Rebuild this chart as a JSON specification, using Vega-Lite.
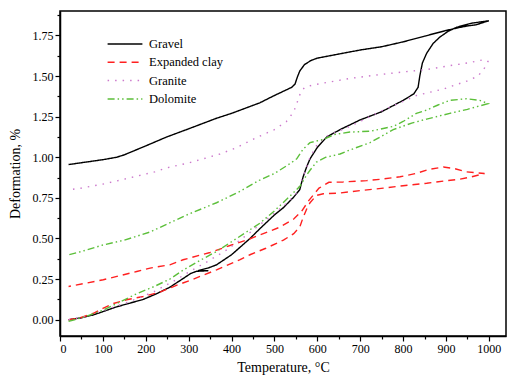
{
  "$schema": "https://vega.github.io/schema/vega-lite/v6.json",
  "width": 446,
  "height": 325,
  "autosize": {"type": "none"},
  "padding": {"left": 60, "top": 11, "right": 1, "bottom": 40},
  "config": {
    "view": {"stroke": "black", "strokeWidth": 1.5},
    "font": "Times New Roman",
    "style": {"guide-label": {"font": "Times New Roman", "fill": "black"}, "guide-title": {"font": "Times New Roman", "fill": "black"}},
    "axis": {"grid": false, "domainColor": "black", "domainWidth": 1.5, "tickColor": "black", "tickWidth": 1.2, "labelColor": "black", "titleColor": "black", "labelFont": "Times New Roman", "titleFont": "Times New Roman", "labelFontSize": 12, "titleFontSize": 14, "titleFontWeight": "normal"},
    "legend": {"labelFont": "Times New Roman", "labelFontSize": 12.5, "labelColor": "black"}
  },
  "data": {"values": [
    {"m":"Gravel","i":0,"T":20,"D":0},{"m":"Gravel","i":1,"T":50,"D":0.012},{"m":"Gravel","i":2,"T":78,"D":0.03},{"m":"Gravel","i":3,"T":100,"D":0.05},{"m":"Gravel","i":4,"T":130,"D":0.078},{"m":"Gravel","i":5,"T":160,"D":0.1},{"m":"Gravel","i":6,"T":194,"D":0.125},{"m":"Gravel","i":7,"T":225,"D":0.16},{"m":"Gravel","i":8,"T":256,"D":0.2},{"m":"Gravel","i":9,"T":285,"D":0.25},{"m":"Gravel","i":10,"T":305,"D":0.285},{"m":"Gravel","i":11,"T":318,"D":0.298},{"m":"Gravel","i":12,"T":346,"D":0.302},{"m":"Gravel","i":13,"T":322,"D":0.302},{"m":"Gravel","i":14,"T":345,"D":0.318},{"m":"Gravel","i":15,"T":365,"D":0.338},{"m":"Gravel","i":16,"T":400,"D":0.4},{"m":"Gravel","i":17,"T":443,"D":0.5},{"m":"Gravel","i":18,"T":466,"D":0.56},{"m":"Gravel","i":19,"T":500,"D":0.645},{"m":"Gravel","i":20,"T":521,"D":0.69},{"m":"Gravel","i":21,"T":545,"D":0.755},{"m":"Gravel","i":22,"T":559,"D":0.8},{"m":"Gravel","i":23,"T":567,"D":0.88},{"m":"Gravel","i":24,"T":575,"D":0.94},{"m":"Gravel","i":25,"T":583,"D":0.99},{"m":"Gravel","i":26,"T":600,"D":1.06},{"m":"Gravel","i":27,"T":622,"D":1.125},{"m":"Gravel","i":28,"T":653,"D":1.17},{"m":"Gravel","i":29,"T":700,"D":1.23},{"m":"Gravel","i":30,"T":750,"D":1.28},{"m":"Gravel","i":31,"T":800,"D":1.35},{"m":"Gravel","i":32,"T":825,"D":1.39},{"m":"Gravel","i":33,"T":835,"D":1.43},{"m":"Gravel","i":34,"T":839,"D":1.5},{"m":"Gravel","i":35,"T":845,"D":1.58},{"m":"Gravel","i":36,"T":855,"D":1.64},{"m":"Gravel","i":37,"T":870,"D":1.7},{"m":"Gravel","i":38,"T":886,"D":1.74},{"m":"Gravel","i":39,"T":905,"D":1.775},{"m":"Gravel","i":40,"T":925,"D":1.8},{"m":"Gravel","i":41,"T":960,"D":1.825},{"m":"Gravel","i":42,"T":1000,"D":1.84},
    {"m":"Gravel","i":43,"T":970,"D":1.815},{"m":"Gravel","i":44,"T":950,"D":1.808},{"m":"Gravel","i":45,"T":925,"D":1.795},{"m":"Gravel","i":46,"T":900,"D":1.78},{"m":"Gravel","i":47,"T":850,"D":1.745},{"m":"Gravel","i":48,"T":800,"D":1.71},{"m":"Gravel","i":49,"T":750,"D":1.68},{"m":"Gravel","i":50,"T":700,"D":1.66},{"m":"Gravel","i":51,"T":650,"D":1.635},{"m":"Gravel","i":52,"T":600,"D":1.61},{"m":"Gravel","i":53,"T":585,"D":1.595},{"m":"Gravel","i":54,"T":570,"D":1.57},{"m":"Gravel","i":55,"T":559,"D":1.53},{"m":"Gravel","i":56,"T":553,"D":1.49},{"m":"Gravel","i":57,"T":548,"D":1.45},{"m":"Gravel","i":58,"T":540,"D":1.43},{"m":"Gravel","i":59,"T":500,"D":1.38},{"m":"Gravel","i":60,"T":466,"D":1.335},{"m":"Gravel","i":61,"T":400,"D":1.27},{"m":"Gravel","i":62,"T":365,"D":1.24},{"m":"Gravel","i":63,"T":300,"D":1.175},{"m":"Gravel","i":64,"T":249,"D":1.125},{"m":"Gravel","i":65,"T":200,"D":1.07},{"m":"Gravel","i":66,"T":150,"D":1.015},{"m":"Gravel","i":67,"T":132,"D":1.0},{"m":"Gravel","i":68,"T":100,"D":0.985},{"m":"Gravel","i":69,"T":60,"D":0.97},{"m":"Gravel","i":70,"T":20,"D":0.955},

    {"m":"Expanded clay","i":0,"T":20,"D":0},{"m":"Expanded clay","i":1,"T":45,"D":0.01},{"m":"Expanded clay","i":2,"T":78,"D":0.04},{"m":"Expanded clay","i":3,"T":100,"D":0.07},{"m":"Expanded clay","i":4,"T":124,"D":0.1},{"m":"Expanded clay","i":5,"T":155,"D":0.123},{"m":"Expanded clay","i":6,"T":194,"D":0.143},{"m":"Expanded clay","i":7,"T":233,"D":0.17},{"m":"Expanded clay","i":8,"T":270,"D":0.21},{"m":"Expanded clay","i":9,"T":311,"D":0.25},{"m":"Expanded clay","i":10,"T":365,"D":0.307},{"m":"Expanded clay","i":11,"T":420,"D":0.37},{"m":"Expanded clay","i":12,"T":443,"D":0.4},{"m":"Expanded clay","i":13,"T":480,"D":0.44},{"m":"Expanded clay","i":14,"T":521,"D":0.49},{"m":"Expanded clay","i":15,"T":545,"D":0.53},{"m":"Expanded clay","i":16,"T":559,"D":0.57},{"m":"Expanded clay","i":17,"T":567,"D":0.63},{"m":"Expanded clay","i":18,"T":575,"D":0.68},{"m":"Expanded clay","i":19,"T":583,"D":0.72},{"m":"Expanded clay","i":20,"T":598,"D":0.765},{"m":"Expanded clay","i":21,"T":614,"D":0.775},{"m":"Expanded clay","i":22,"T":653,"D":0.78},{"m":"Expanded clay","i":23,"T":700,"D":0.795},{"m":"Expanded clay","i":24,"T":754,"D":0.81},{"m":"Expanded clay","i":25,"T":800,"D":0.825},{"m":"Expanded clay","i":26,"T":855,"D":0.84},{"m":"Expanded clay","i":27,"T":900,"D":0.855},{"m":"Expanded clay","i":28,"T":932,"D":0.865},{"m":"Expanded clay","i":29,"T":960,"D":0.88},{"m":"Expanded clay","i":30,"T":990,"D":0.9},
    {"m":"Expanded clay","i":31,"T":970,"D":0.905},{"m":"Expanded clay","i":32,"T":948,"D":0.91},{"m":"Expanded clay","i":33,"T":920,"D":0.93},{"m":"Expanded clay","i":34,"T":894,"D":0.94},{"m":"Expanded clay","i":35,"T":860,"D":0.925},{"m":"Expanded clay","i":36,"T":830,"D":0.9},{"m":"Expanded clay","i":37,"T":793,"D":0.88},{"m":"Expanded clay","i":38,"T":750,"D":0.865},{"m":"Expanded clay","i":39,"T":715,"D":0.856},{"m":"Expanded clay","i":40,"T":660,"D":0.848},{"m":"Expanded clay","i":41,"T":627,"D":0.846},{"m":"Expanded clay","i":42,"T":604,"D":0.81},{"m":"Expanded clay","i":43,"T":580,"D":0.733},{"m":"Expanded clay","i":44,"T":563,"D":0.666},{"m":"Expanded clay","i":45,"T":545,"D":0.62},{"m":"Expanded clay","i":46,"T":513,"D":0.57},{"m":"Expanded clay","i":47,"T":474,"D":0.53},{"m":"Expanded clay","i":48,"T":435,"D":0.49},{"m":"Expanded clay","i":49,"T":400,"D":0.46},{"m":"Expanded clay","i":50,"T":350,"D":0.414},{"m":"Expanded clay","i":51,"T":287,"D":0.369},{"m":"Expanded clay","i":52,"T":256,"D":0.338},{"m":"Expanded clay","i":53,"T":210,"D":0.318},{"m":"Expanded clay","i":54,"T":179,"D":0.297},{"m":"Expanded clay","i":55,"T":101,"D":0.246},{"m":"Expanded clay","i":56,"T":60,"D":0.225},{"m":"Expanded clay","i":57,"T":20,"D":0.205},

    {"m":"Granite","i":0,"T":20,"D":0},{"m":"Granite","i":1,"T":60,"D":0.02},{"m":"Granite","i":2,"T":100,"D":0.055},{"m":"Granite","i":3,"T":160,"D":0.11},{"m":"Granite","i":4,"T":217,"D":0.17},{"m":"Granite","i":5,"T":260,"D":0.23},{"m":"Granite","i":6,"T":303,"D":0.297},{"m":"Granite","i":7,"T":345,"D":0.36},{"m":"Granite","i":8,"T":389,"D":0.43},{"m":"Granite","i":9,"T":435,"D":0.52},{"m":"Granite","i":10,"T":490,"D":0.635},{"m":"Granite","i":11,"T":530,"D":0.72},{"m":"Granite","i":12,"T":552,"D":0.78},{"m":"Granite","i":13,"T":567,"D":0.88},{"m":"Granite","i":14,"T":583,"D":1.0},{"m":"Granite","i":15,"T":600,"D":1.08},{"m":"Granite","i":16,"T":622,"D":1.13},{"m":"Granite","i":17,"T":676,"D":1.19},{"m":"Granite","i":18,"T":754,"D":1.29},{"m":"Granite","i":19,"T":831,"D":1.38},{"m":"Granite","i":20,"T":894,"D":1.42},{"m":"Granite","i":21,"T":950,"D":1.47},{"m":"Granite","i":22,"T":975,"D":1.5},{"m":"Granite","i":23,"T":990,"D":1.55},{"m":"Granite","i":24,"T":998,"D":1.59},
    {"m":"Granite","i":25,"T":987,"D":1.6},{"m":"Granite","i":26,"T":950,"D":1.58},{"m":"Granite","i":27,"T":900,"D":1.56},{"m":"Granite","i":28,"T":855,"D":1.54},{"m":"Granite","i":29,"T":800,"D":1.525},{"m":"Granite","i":30,"T":750,"D":1.51},{"m":"Granite","i":31,"T":676,"D":1.485},{"m":"Granite","i":32,"T":590,"D":1.445},{"m":"Granite","i":33,"T":570,"D":1.43},{"m":"Granite","i":34,"T":560,"D":1.39},{"m":"Granite","i":35,"T":552,"D":1.33},{"m":"Granite","i":36,"T":545,"D":1.28},{"m":"Granite","i":37,"T":528,"D":1.22},{"m":"Granite","i":38,"T":500,"D":1.17},{"m":"Granite","i":39,"T":474,"D":1.14},{"m":"Granite","i":40,"T":450,"D":1.11},{"m":"Granite","i":41,"T":408,"D":1.055},{"m":"Granite","i":42,"T":373,"D":1.02},{"m":"Granite","i":43,"T":300,"D":0.965},{"m":"Granite","i":44,"T":249,"D":0.935},{"m":"Granite","i":45,"T":221,"D":0.91},{"m":"Granite","i":46,"T":150,"D":0.865},{"m":"Granite","i":47,"T":100,"D":0.835},{"m":"Granite","i":48,"T":50,"D":0.81},{"m":"Granite","i":49,"T":20,"D":0.8},

    {"m":"Dolomite","i":0,"T":20,"D":-0.01},{"m":"Dolomite","i":1,"T":60,"D":0.02},{"m":"Dolomite","i":2,"T":101,"D":0.06},{"m":"Dolomite","i":3,"T":140,"D":0.11},{"m":"Dolomite","i":4,"T":179,"D":0.16},{"m":"Dolomite","i":5,"T":220,"D":0.205},{"m":"Dolomite","i":6,"T":256,"D":0.25},{"m":"Dolomite","i":7,"T":290,"D":0.31},{"m":"Dolomite","i":8,"T":330,"D":0.37},{"m":"Dolomite","i":9,"T":365,"D":0.42},{"m":"Dolomite","i":10,"T":400,"D":0.48},{"m":"Dolomite","i":11,"T":435,"D":0.54},{"m":"Dolomite","i":12,"T":466,"D":0.594},{"m":"Dolomite","i":13,"T":500,"D":0.67},{"m":"Dolomite","i":14,"T":536,"D":0.76},{"m":"Dolomite","i":15,"T":559,"D":0.82},{"m":"Dolomite","i":16,"T":575,"D":0.89},{"m":"Dolomite","i":17,"T":583,"D":0.92},{"m":"Dolomite","i":18,"T":598,"D":0.97},{"m":"Dolomite","i":19,"T":620,"D":1.0},{"m":"Dolomite","i":20,"T":653,"D":1.02},{"m":"Dolomite","i":21,"T":676,"D":1.045},{"m":"Dolomite","i":22,"T":723,"D":1.09},{"m":"Dolomite","i":23,"T":777,"D":1.17},{"m":"Dolomite","i":24,"T":820,"D":1.21},{"m":"Dolomite","i":25,"T":855,"D":1.235},{"m":"Dolomite","i":26,"T":909,"D":1.27},{"m":"Dolomite","i":27,"T":950,"D":1.295},{"m":"Dolomite","i":28,"T":998,"D":1.33},
    {"m":"Dolomite","i":29,"T":979,"D":1.35},{"m":"Dolomite","i":30,"T":948,"D":1.36},{"m":"Dolomite","i":31,"T":909,"D":1.35},{"m":"Dolomite","i":32,"T":880,"D":1.32},{"m":"Dolomite","i":33,"T":855,"D":1.29},{"m":"Dolomite","i":34,"T":831,"D":1.27},{"m":"Dolomite","i":35,"T":800,"D":1.22},{"m":"Dolomite","i":36,"T":777,"D":1.19},{"m":"Dolomite","i":37,"T":723,"D":1.16},{"m":"Dolomite","i":38,"T":676,"D":1.155},{"m":"Dolomite","i":39,"T":640,"D":1.14},{"m":"Dolomite","i":40,"T":614,"D":1.11},{"m":"Dolomite","i":41,"T":583,"D":1.09},{"m":"Dolomite","i":42,"T":567,"D":1.05},{"m":"Dolomite","i":43,"T":552,"D":0.99},{"m":"Dolomite","i":44,"T":530,"D":0.95},{"m":"Dolomite","i":45,"T":500,"D":0.9},{"m":"Dolomite","i":46,"T":466,"D":0.86},{"m":"Dolomite","i":47,"T":420,"D":0.79},{"m":"Dolomite","i":48,"T":365,"D":0.72},{"m":"Dolomite","i":49,"T":300,"D":0.65},{"m":"Dolomite","i":50,"T":210,"D":0.54},{"m":"Dolomite","i":51,"T":150,"D":0.49},{"m":"Dolomite","i":52,"T":100,"D":0.46},{"m":"Dolomite","i":53,"T":50,"D":0.42},{"m":"Dolomite","i":54,"T":20,"D":0.4}
  ]},
  "mark": {"type": "line", "strokeWidth": 1.4},
  "encoding": {
    "x": {"field": "T", "type": "quantitative", "scale": {"domain": [0, 1040], "nice": false, "zero": false},
      "axis": {"title": "Temperature, °C", "format": "d", "labelFont": "Times New Roman", "titleFont": "Times New Roman", "values": [0,50,100,150,200,250,300,350,400,450,500,550,600,650,700,750,800,850,900,950,1000],
        "labelExpr": "datum.value % 100 === 0 ? datum.label : ''", "tickSize": {"condition": {"test": "datum.value % 100 !== 0", "value": 3}, "value": 5}, "labelPadding": 2, "titlePadding": 6}},
    "y": {"field": "D", "type": "quantitative", "scale": {"domain": [-0.1, 1.9], "nice": false, "zero": false},
      "axis": {"title": "Deformation, %", "labelFont": "Times New Roman", "titleFont": "Times New Roman", "values": [0,0.125,0.25,0.375,0.5,0.625,0.75,0.875,1,1.125,1.25,1.375,1.5,1.625,1.75,1.875],
        "labelExpr": "datum.value % 0.25 === 0 ? format(datum.value, '.2f') : ''", "tickSize": {"condition": {"test": "datum.value % 0.25 !== 0", "value": 3}, "value": 5}, "labelPadding": 2, "titlePadding": 10}},
    "color": {"field": "m", "type": "nominal", "sort": ["Gravel","Expanded clay","Granite","Dolomite"],
      "scale": {"domain": ["Gravel","Expanded clay","Granite","Dolomite"], "range": ["#000000","#ff2020","#cc79cc","#5cbf3a"]},
      "legend": {"title": null, "orient": "none", "legendX": 58, "legendY": 26, "labelFont": "Times New Roman", "symbolType": "M-2.9,0H2.9", "symbolSize": 144, "symbolStrokeWidth": 1.5, "labelOffset": 17, "rowPadding": 4.3, "padding": 0}},
    "strokeDash": {"field": "m", "type": "nominal", "sort": ["Gravel","Expanded clay","Granite","Dolomite"],
      "scale": {"domain": ["Gravel","Expanded clay","Granite","Dolomite"], "range": [[1,0],[7,5],[1.5,6],[7,3,1.5,3,1.5,3]]},
      "legend": {"title": null, "orient": "none", "legendX": 58, "legendY": 26, "labelFont": "Times New Roman", "symbolType": "M-2.9,0H2.9", "symbolSize": 144, "symbolStrokeWidth": 1.5, "labelOffset": 17, "rowPadding": 4.3, "padding": 0}},
    "order": {"field": "i", "type": "quantitative"}
  }
}
